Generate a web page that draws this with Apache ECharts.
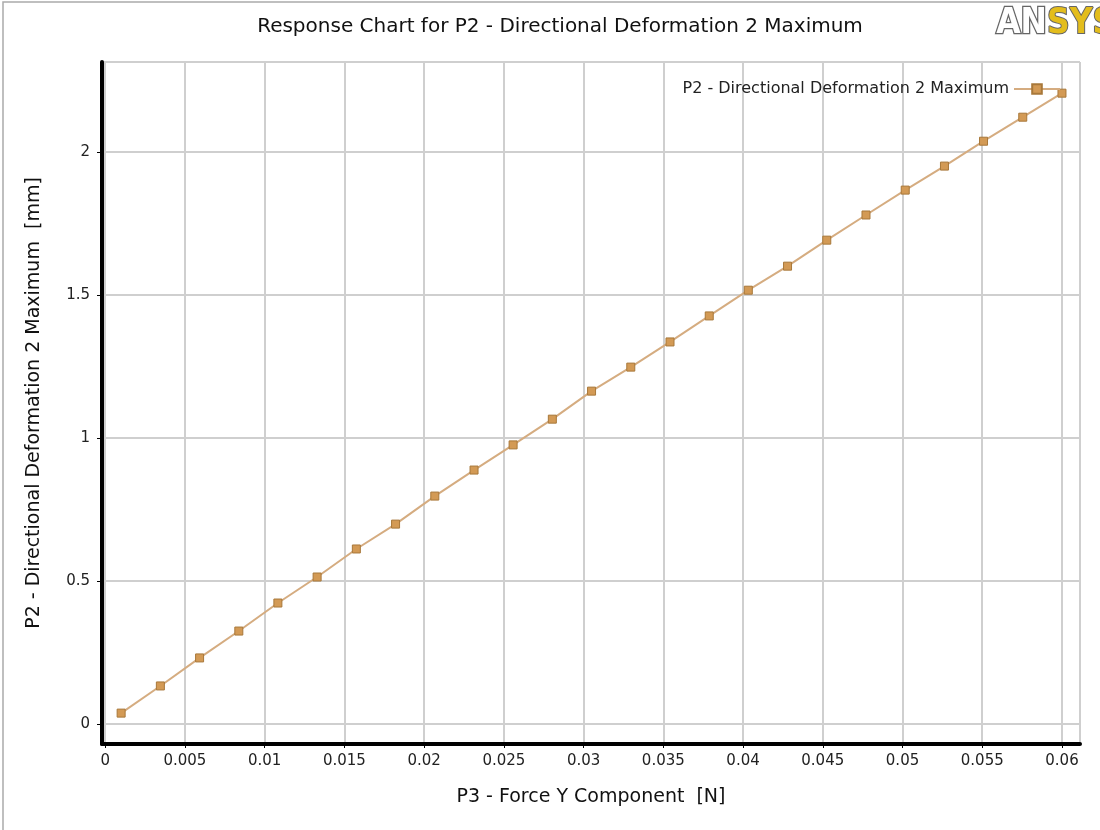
<!DOCTYPE html>
<html>
<head>
<meta charset="utf-8">
<script src="https://cdn.jsdelivr.net/npm/echarts@6/dist/echarts.min.js"></script>
<style>
  html, body { margin: 0; padding: 0; background: #fff; }
  #chart { width: 1100px; height: 830px; }
</style>
</head>
<body>
<div id="chart"></div>
<script>
// force values [N]
var forceY = [0.00100, 0.00346, 0.00592, 0.00838, 0.01083, 0.01329, 0.01575, 0.01821, 0.02067,
  0.02313, 0.02558, 0.02804, 0.03050, 0.03296, 0.03542, 0.03788, 0.04033, 0.04279, 0.04525,
  0.04771, 0.05017, 0.05263, 0.05508, 0.05754, 0.06000];
// deformation [mm]
var deformation = [0.038, 0.133, 0.231, 0.325, 0.423, 0.514, 0.612, 0.699, 0.797, 0.888,
  0.976, 1.066, 1.164, 1.248, 1.336, 1.427, 1.517, 1.601, 1.692, 1.780, 1.867, 1.951,
  2.038, 2.122, 2.206];
var seriesName = 'P2 - Directional Deformation 2 Maximum';

var points = [];
for (var i = 0; i < forceY.length; i++) {
  points.push([forceY[i], deformation[i]]);
}

var font = 'DejaVu Sans';
var logoFont = '"DejaVu Sans Condensed", "Liberation Sans Narrow", "DejaVu Sans"';
var chart = echarts.init(document.getElementById('chart'));
var option = {
  backgroundColor: '#fff',
  animation: false,
  title: {
    text: 'Response Chart for P2 - Directional Deformation 2 Maximum',
    left: 555,
    textAlign: 'center',
    top: 12,
    textStyle: { color: '#111', fontFamily: font, fontWeight: 'normal', fontSize: 20 }
  },
  graphic: [
    {
      type: 'rect',
      shape: { x: 3, y: 2, width: 1120, height: 850 },
      style: { fill: 'none', stroke: '#aaa', lineWidth: 1.5 },
      silent: true
    },
    {
      type: 'text',
      left: 995,
      top: 5,
      style: {
        text: '{a|AN}{b|SYS}',
        rich: {
          a: { fontFamily: logoFont, fontWeight: 'bold', fontSize: 35, fill: '#fff', stroke: '#666', lineWidth: 2.5 },
          b: { fontFamily: logoFont, fontWeight: 'bold', fontSize: 35, fill: '#e3bd1c', stroke: '#666', lineWidth: 2 }
        }
      }
    }
  ],
  legend: {
    right: 34,
    top: 76,
    itemWidth: 46,
    itemHeight: 12,
    itemGap: 10,
    align: 'right',
    data: [seriesName],
    textStyle: { color: '#222', fontFamily: font, fontSize: 16 }
  },
  grid: { left: 102, right: 20, top: 62, bottom: 86 },
  xAxis: {
    type: 'value',
    min: -0.0002,
    max: 0.06113,
    splitNumber: 12,
    name: 'P3 - Force Y Component  [N]',
    nameLocation: 'middle',
    nameGap: 44,
    nameTextStyle: { color: '#111', fontFamily: font, fontSize: 19 },
    axisLine: { show: true, onZero: false, lineStyle: { color: '#000', width: 4 } },
    axisTick: { show: true, length: 4, lineStyle: { color: '#000', width: 1 } },
    axisLabel: {
      color: '#222', fontFamily: font, fontSize: 15, margin: 10,
      showMinLabel: false, showMaxLabel: false,
      formatter: function (v) {
        var r = Math.round(v / 0.005);
        if (Math.abs(v - r * 0.005) > 1e-7) return '';
        return String(parseFloat((r * 0.005).toFixed(4)));
      }
    },
    splitLine: { show: true, lineStyle: { color: '#cfcfcf', width: 2 } }
  },
  yAxis: {
    type: 'value',
    min: -0.07,
    max: 2.315,
    splitNumber: 5,
    name: 'P2 - Directional Deformation 2 Maximum  [mm]',
    nameLocation: 'middle',
    nameGap: 58,
    nameTextStyle: { color: '#111', fontFamily: font, fontSize: 19 },
    axisLine: { show: true, onZero: false, lineStyle: { color: '#000', width: 4 } },
    axisTick: { show: true, length: 5, lineStyle: { color: '#000', width: 1 } },
    axisLabel: {
      color: '#222', fontFamily: font, fontSize: 15, margin: 12,
      showMinLabel: false, showMaxLabel: false,
      formatter: function (v) {
        var r = Math.round(v / 0.5);
        if (Math.abs(v - r * 0.5) > 1e-6) return '';
        return String(r * 0.5);
      }
    },
    splitLine: { show: true, lineStyle: { color: '#cfcfcf', width: 2 } }
  },
  series: [{
    name: seriesName,
    type: 'line',
    data: points,
    symbol: 'rect',
    symbolSize: 8,
    lineStyle: { color: '#d5ac80', width: 2 },
    itemStyle: { color: '#d39a55', borderColor: '#a8783a', borderWidth: 1 }
  }]
};
chart.setOption(option);
</script>
</body>
</html>
